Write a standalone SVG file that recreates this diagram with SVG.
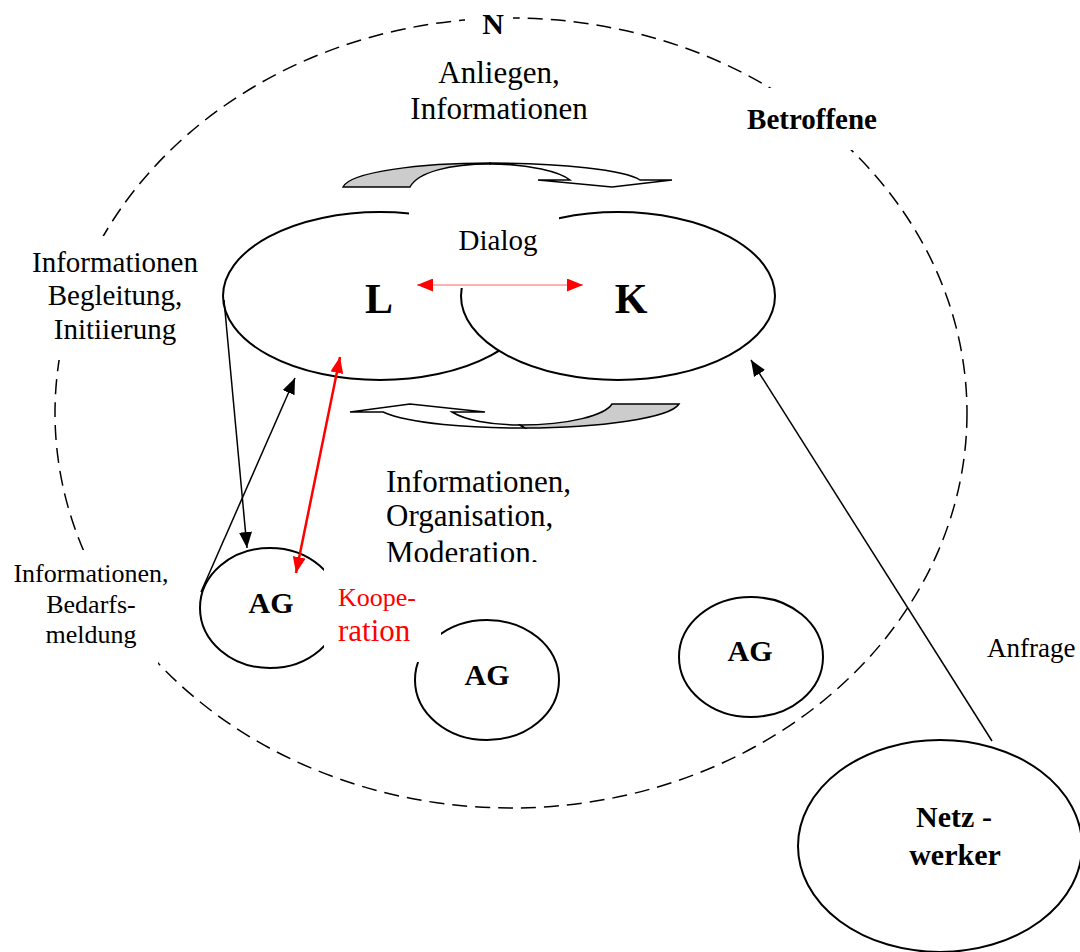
<svg xmlns="http://www.w3.org/2000/svg" width="1080" height="952" viewBox="0 0 1080 952">
<style>
text{font-family:"Liberation Serif","Times New Roman",serif;fill:#000}
.b{font-weight:bold}
.red{fill:#ff0000}
.node{fill:#fff;stroke:#000;stroke-width:2}
.ln{fill:none;stroke:#000;stroke-width:1.5}
.rl{fill:none;stroke:#ff0000;stroke-width:2.5}
.shape{stroke:#000;stroke-width:1.5;stroke-linejoin:miter}
</style>
<defs>
<marker id="ab" markerUnits="userSpaceOnUse" markerWidth="16" markerHeight="13" refX="16" refY="6.5" orient="auto-start-reverse"><path d="M0,0 L16,6.5 L0,13 Z" fill="#000"/></marker>
<marker id="ar" markerUnits="userSpaceOnUse" markerWidth="16" markerHeight="13" refX="16" refY="6.5" orient="auto-start-reverse"><path d="M0,0 L16,6.5 L0,13 Z" fill="#ff0000"/></marker>
<mask id="nmask" maskUnits="userSpaceOnUse" x="0" y="0" width="1080" height="952">
<rect x="0" y="0" width="1080" height="952" fill="#fff"/>
<rect x="465" y="0" width="48" height="45" fill="#000"/>
<rect x="745" y="88" width="135" height="62" fill="#000"/>
<rect x="0" y="236" width="230" height="124" fill="#000"/>
<rect x="0" y="550" width="158" height="120" fill="#000"/>
</mask>
<clipPath id="midclip"><rect x="380" y="460" width="220" height="102"/></clipPath>
</defs>

<g id="N">
<ellipse cx="511" cy="413" rx="456" ry="395" fill="none" stroke="#000" stroke-width="1.5" stroke-dasharray="15 8" mask="url(#nmask)"/>
<text class="b" x="493" y="34" font-size="30" text-anchor="middle">N</text>
</g>

<g id="top-arrow">
<path class="shape" fill="#fff" d="M490,163 C560,163 625,170 640,180 L672,180 L612,187 L538,180 L570,180 C560,172 530,164 490,164 Z"/>
<path class="shape" fill="#cccccc" d="M343,187 C350,172 420,163 490,163 L490,164 C450,164 418,172 410,187 Z"/>
</g>

<g id="bottom-arrow">
<path class="shape" fill="#fff" d="M525,428 C470,428 410,424 383,412 L350,412 L410,404 L485,412 L452,412 C465,420 490,425 520,425 Z"/>
<path class="shape" fill="#cccccc" d="M612,404 L679,404 C670,418 600,428 525,428 L520,425 C570,425 605,415 612,404 Z"/>
</g>

<g id="L"><ellipse class="node" cx="380" cy="296" rx="157" ry="84"/></g>
<g id="K"><ellipse class="node" cx="618" cy="296" rx="157" ry="84"/></g>
<rect x="409" y="200" width="150" height="88" fill="#fff"/>
<text x="498" y="250" font-size="29" text-anchor="middle">Dialog</text>
<text class="b" x="379" y="313" font-size="42" text-anchor="middle">L</text>
<text class="b" x="631" y="313" font-size="42" text-anchor="middle">K</text>

<g id="AG1"><ellipse class="node" cx="270" cy="608" rx="70" ry="60"/></g>
<g id="AG2"><ellipse class="node" cx="487" cy="680" rx="72" ry="60"/></g>
<g id="AG3"><ellipse class="node" cx="751" cy="657" rx="72" ry="60"/><text class="b" x="750" y="661" font-size="30" text-anchor="middle">AG</text></g>
<g id="Netzwerker"><ellipse class="node" cx="940" cy="846" rx="142" ry="106"/>
<text class="b" x="954" y="827" font-size="30" text-anchor="middle">Netz -</text>
<text class="b" x="955" y="865" font-size="30" text-anchor="middle">werker</text></g>

<rect x="324" y="560" width="117" height="102" fill="#fff"/>
<text class="b" x="271" y="613" font-size="30" text-anchor="middle">AG</text>
<text class="b" x="487" y="685" font-size="30" text-anchor="middle">AG</text>

<g id="connectors">
<line class="ln" x1="224" y1="300" x2="247" y2="548" marker-end="url(#ab)"/>
<line class="ln" x1="201" y1="592" x2="295" y2="378" marker-end="url(#ab)"/>
<line class="ln" x1="992" y1="741" x2="751" y2="360" marker-end="url(#ab)"/>
<line class="rl" x1="296" y1="573" x2="340" y2="357" marker-start="url(#ar)" marker-end="url(#ar)"/>
<line x1="417" y1="285" x2="583" y2="285" stroke="#ff6060" stroke-width="1" marker-start="url(#ar)" marker-end="url(#ar)"/>
</g>

<g id="labels">
<text x="499" y="83" font-size="31" text-anchor="middle">Anliegen,</text>
<text x="499" y="119" font-size="31" text-anchor="middle">Informationen</text>
<text class="b" x="812" y="129" font-size="29" text-anchor="middle">Betroffene</text>
<text x="115" y="272" font-size="29" text-anchor="middle">Informationen</text>
<text x="115" y="305" font-size="29" text-anchor="middle">Begleitung,</text>
<text x="115" y="339" font-size="29" text-anchor="middle">Initiierung</text>
<text x="91" y="582" font-size="26" text-anchor="middle">Informationen,</text>
<text x="91" y="613" font-size="26" text-anchor="middle">Bedarfs-</text>
<text x="91" y="643" font-size="26" text-anchor="middle">meldung</text>
<text class="red" x="338" y="606" font-size="26">Koope-</text>
<text class="red" x="338" y="641" font-size="31">ration</text>
<g clip-path="url(#midclip)">
<text x="386" y="492" font-size="31">Informationen,</text>
<text x="386" y="526" font-size="31">Organisation,</text>
<text x="386" y="563" font-size="31">Moderation,</text>
</g>
<text x="987" y="657" font-size="27">Anfrage</text>
</g>
</svg>
